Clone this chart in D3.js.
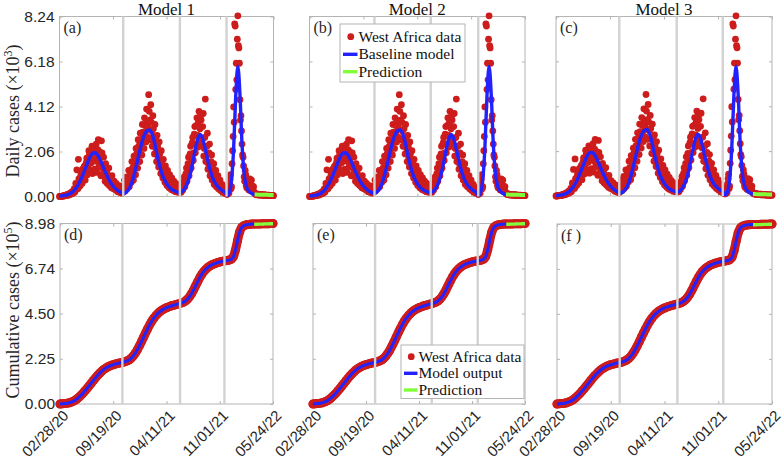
<!DOCTYPE html>
<html>
<head>
<meta charset="utf-8">
<script src="https://cdn.jsdelivr.net/npm/d3@7"></script>
<style>
  body { margin: 0; background: #fff; }
  svg { display: block; font-family: "Liberation Serif", "Times New Roman", serif; }
</style>
</head>
<body>
<div id="chart"></div>
<script>
// ---- data ----
const dateTickLabels = ["02/28/20", "09/19/20", "04/11/21", "11/01/21", "05/24/22"];
const dailyTicks = [0, 2.06, 4.12, 6.18, 8.24];   // x10^3
const cumTicks = [0, 2.25, 4.50, 6.74, 8.98];     // x10^5
const modelTitles = ["Model 1", "Model 2", "Model 3"];
const panelTags = ["(a)", "(b)", "(c)", "(d)", "(e)", "(f )"];

// West Africa daily cases (x10^3), one value every 4 days from 02/28/20 (day 0)
const dailyStep = 4;
const dailyData = [
  0.00,0.01,0.02,0.02,0.03,0.05,0.04,0.08,0.10,0.07,
  0.15,0.12,0.22,0.18,0.35,0.28,0.50,0.42,1.70,0.55,
  0.90,0.70,1.25,0.95,1.40,1.10,1.75,1.30,2.10,1.60,
  1.95,2.30,1.70,2.20,1.85,2.40,1.60,2.60,2.05,1.45,
  2.55,1.30,1.80,0.95,1.50,1.15,0.85,1.30,0.75,0.60,
  0.95,0.55,0.70,0.45,0.60,0.40,0.30,0.50,0.35,0.25,
  0.40,
  0.30,0.75,0.45,0.90,0.55,1.20,0.70,1.05,1.60,0.90,
  1.85,1.35,2.20,1.70,2.60,2.05,2.90,2.40,3.30,2.70,
  3.60,2.95,4.00,3.20,4.66,3.50,4.20,3.00,3.70,2.60,
  3.30,2.20,2.80,1.80,2.50,1.50,2.10,1.10,1.70,0.90,
  1.40,0.80,1.20,0.65,1.00,0.55,0.85,0.45,0.70,0.40,
  0.60,0.30,0.50,0.25,
  0.35,0.20,0.60,0.40,0.90,0.60,1.30,0.95,1.80,1.20,
  2.30,1.60,2.70,2.00,3.20,2.40,3.60,2.80,3.90,3.10,
  3.50,2.60,3.80,2.20,4.46,1.90,2.90,1.50,2.40,1.20,
  1.90,0.90,1.50,0.70,1.20,0.55,0.95,0.40,0.75,0.35,
  0.55,0.25,0.40,0.20,0.30,
  0.10,0.30,0.55,1.00,0.45,2.10,4.10,7.90,4.90,5.34,
  8.27,6.80,4.43,3.70,2.40,1.80,0.90,1.20,0.50,0.80,
  0.35,0.65,0.30,0.75,0.25,0.45,
  0.15,0.10,0.12,0.08,0.10,0.06,0.09,0.07,0.08,0.05,
  0.07,0.06,0.05,0.06,0.04,0.05,0.04,0.05,0.04
];
// the in-between days (day 2, 6, 10, ... 814)
const dailyDataOffset = 2;
const dailyDataB = [
  0.00,0.01,0.01,0.03,0.02,0.04,0.06,0.05,0.09,0.11,
  0.10,0.17,0.14,0.25,0.20,0.60,1.22,0.35,0.80,0.48,
  1.05,0.60,0.85,1.35,0.75,1.55,1.00,1.40,1.90,1.20,
  1.55,1.05,1.80,1.25,1.95,1.10,2.15,1.35,1.75,0.95,
  2.00,1.05,1.40,0.70,1.20,0.60,0.95,0.50,0.80,0.40,
  0.65,0.35,0.55,0.30,0.45,0.22,0.38,0.18,0.28,0.15,
  0.20,0.50,0.25,0.65,0.35,0.85,0.45,1.10,0.65,1.30,
  0.75,1.55,1.00,1.95,1.30,2.30,1.60,2.60,1.90,2.95,
  2.20,3.25,2.50,3.45,2.70,3.90,2.60,3.40,2.30,3.10,
  1.95,2.65,1.60,2.30,1.35,1.95,1.05,1.60,0.85,1.30,
  0.65,1.05,0.50,0.85,0.40,0.70,0.32,0.60,0.28,0.50,
  0.22,0.42,0.20,0.35,0.18,
  0.25,0.45,0.30,0.70,0.45,1.05,0.70,1.50,0.95,1.95,
  1.30,2.45,1.65,2.85,2.00,3.25,2.25,3.40,2.50,3.70,
  2.30,3.20,1.85,2.70,1.60,2.30,1.25,2.00,0.95,1.60,
  0.75,1.25,0.55,1.00,0.45,0.80,0.35,0.60,0.28,0.45,
  0.20,0.35,0.15,0.25,0.10,
  0.20,0.15,0.80,0.35,1.50,2.75,3.40,7.80,6.10,7.20,
  6.90,6.10,3.50,3.00,1.90,1.40,0.70,1.00,0.40,0.60,
  0.30,0.80,0.25,0.50,0.30,0.20,
  0.12,0.09,0.11,0.07,0.09,0.08,0.06,0.08,0.05,0.07,
  0.06,0.05,0.04,0.06,0.05,0.04,0.05,0.04
];

// baseline model daily cases (x10^3), every 8 days up to day 744
const modelStep = 8;
const dailyModel = [
  0.02,0.03,0.04,0.06,0.09,0.13,0.19,0.28,0.40,0.55,0.74,0.96,1.20,1.45,1.69,1.88,
  1.99,2.00,1.92,1.76,1.55,1.32,1.09,0.88,0.70,0.55,0.43,0.33,0.26,0.20,0.16,
  0.15,0.22,0.34,0.52,0.80,1.15,1.55,1.98,2.38,2.70,2.92,3.03,3.05,2.90,2.60,2.15,
  1.70,1.32,1.00,0.78,0.60,0.47,0.37,0.30,0.25,0.21,0.18,
  0.20,0.28,0.42,0.62,0.92,1.32,1.80,2.28,2.66,2.83,2.72,2.38,1.95,1.53,1.15,0.86,
  0.65,0.50,0.40,0.32,0.25,0.18,
  0.05,0.20,0.75,2.20,4.60,5.95,4.70,2.40,1.05,0.50,0.28,0.18,0.12,0.09
];

// prediction (x10^3), every 8 days from day 744 to 816
const predStart = 744;
const dailyPred = [0.09,0.09,0.08,0.08,0.08,0.08,0.08,0.07,0.07,0.07];

// cumulative cases (x10^5), every 8 days
const cumData = [
  0.00,0.01,0.02,0.03,0.05,0.08,0.12,0.17,0.24,0.33,
  0.43,0.54,0.66,0.78,0.91,1.04,1.17,1.30,1.42,1.53,
  1.63,1.72,1.79,1.85,1.90,1.94,1.97,2.00,2.03,2.05,
  2.07,2.10,2.14,2.19,2.27,2.38,2.52,2.69,2.89,3.10,
  3.32,3.54,3.75,3.95,4.13,4.28,4.41,4.52,4.61,4.68,
  4.74,4.79,4.83,4.87,4.90,4.93,4.96,4.99,5.02,5.06,
  5.12,5.21,5.33,5.49,5.68,5.89,6.10,6.30,6.47,6.61,
  6.72,6.81,6.88,6.94,6.98,7.02,7.05,7.08,7.10,7.12,
  7.14,7.16,7.20,7.32,7.65,8.12,8.55,8.78,8.87,8.91,
  8.93,8.94,8.95,8.95,8.96,8.96,8.96,8.97,8.97,8.97,
  8.97,8.98,8.98
];
const cumPred = [8.94,8.94,8.95,8.95,8.95,8.96,8.96,8.96,8.97,8.97];

// wave boundaries (days since 02/28/20), one row per panel a..f
const waveBreaks = [
  [243, 459, 637], [246, 459, 639], [239, 456, 630],
  [239, 460, 630], [239, 457, 634], [238, 457, 631]
];

// ---- layout ----
const W = 783, H = 461;
const boxes = [
  [59.5, 16.5, 273.5, 196.5], [309.5, 16.5, 525, 196.5], [556, 16.5, 772, 196],
  [60, 223.5, 273, 404], [313, 223.5, 525, 404], [557, 224, 772, 404]
];
const RED = "#cd1c1c", BLUE = "#2222ff", GREEN = "#80ff3a";
const AXIS = "#b4b4b4", BREAK = "#d2d2d2", TXT = "#262626";

const parse = d3.utcParse("%m/%d/%y");
const fmt = d3.utcFormat("%m/%d/%y");
const t0 = parse(dateTickLabels[0]);
const t1 = parse(dateTickLabels[dateTickLabels.length - 1]);
const dayDate = n => d3.utcDay.offset(t0, n);

const svg = d3.select("#chart").append("svg")
    .attr("width", W).attr("height", H)
    .attr("viewBox", `0 0 ${W} ${H}`);

function styleAxis(sel) {
    sel.select(".domain").remove();
    sel.selectAll(".tick line").attr("stroke", AXIS);
    sel.selectAll(".tick text").attr("fill", TXT).style("font-size", "15.5px");
}

function drawPanel(idx) {
    const [x0, y0, x1, y1] = boxes[idx];
    const daily = idx < 3;
    const x = d3.scaleUtc().domain([t0, t1]).range([x0, x1]);
    const y = d3.scaleLinear().domain([0, daily ? 8.24 : 8.98]).range([y1, y0]);
    const yTicks = daily ? dailyTicks : cumTicks;
    const xTicks = dateTickLabels.map(parse);
    const g = svg.append("g");

    g.append("rect")
        .attr("x", x0).attr("y", y0)
        .attr("width", x1 - x0).attr("height", y1 - y0)
        .attr("fill", "none").attr("stroke", AXIS);

    // ticks on all four sides, pointing inwards
    g.append("g").attr("transform", `translate(0,${y1})`)
        .call(d3.axisBottom(x).tickValues(xTicks).tickSize(-3)
            .tickFormat(daily ? () => "" : fmt))
        .call(styleAxis)
        .selectAll(".tick text")
        .attr("x", 0).attr("y", 0).attr("dy", 0)
        .attr("text-anchor", "end")
        .style("font-size", "15px")
        .attr("transform", "translate(9,12.5) rotate(-45)");
    g.append("g").attr("transform", `translate(0,${y0})`)
        .call(d3.axisTop(x).tickValues(xTicks).tickSize(-3).tickFormat(() => ""))
        .call(styleAxis);
    g.append("g").attr("transform", `translate(${x0},0)`)
        .call(d3.axisLeft(y).tickValues(yTicks).tickSize(-3).tickPadding(5)
            .tickFormat(idx % 3 === 0 ? d3.format(".2f") : () => ""))
        .call(styleAxis);
    g.append("g").attr("transform", `translate(${x1},0)`)
        .call(d3.axisRight(y).tickValues(yTicks).tickSize(-3).tickFormat(() => ""))
        .call(styleAxis);

    const line = d3.line().x(d => x(d[0])).y(d => y(d[1])).curve(d3.curveMonotoneX);

    if (daily) {
        const obs = dailyData.map((v, i) => [dayDate(i * dailyStep), v])
            .concat(dailyDataB.map((v, i) => [dayDate(dailyDataOffset + i * dailyStep), v]));
        g.append("g").selectAll("circle")
            .data(obs)
            .join("circle")
            .attr("cx", d => x(d[0])).attr("cy", d => y(d[1]))
            .attr("r", 3.4).attr("fill", RED);
        g.append("path")
            .datum(dailyModel.map((v, i) => [dayDate(i * modelStep), v]))
            .attr("d", line).attr("fill", "none")
            .attr("stroke", BLUE).attr("stroke-width", 3.4);
        g.append("path")
            .datum(dailyPred.map((v, i) => [dayDate(predStart + i * modelStep), v]))
            .attr("d", line).attr("fill", "none")
            .attr("stroke", GREEN).attr("stroke-width", 4);
    } else {
        const pts = cumData.map((v, i) => [dayDate(i * modelStep), v]);
        g.append("path").datum(pts).attr("d", line).attr("fill", "none")
            .attr("stroke", RED).attr("stroke-width", 9)
            .attr("stroke-linecap", "round").attr("stroke-linejoin", "round");
        g.append("g").selectAll("circle").data(pts).join("circle")
            .attr("cx", d => x(d[0])).attr("cy", d => y(d[1]))
            .attr("r", 4.5).attr("fill", RED);
        g.append("path")
            .datum(pts.filter((d, i) => i * modelStep <= predStart))
            .attr("d", line).attr("fill", "none")
            .attr("stroke", BLUE).attr("stroke-width", 3);
        g.append("path")
            .datum(cumPred.map((v, i) => [dayDate(predStart + i * modelStep), v]))
            .attr("d", line).attr("fill", "none")
            .attr("stroke", GREEN).attr("stroke-width", 3.4);
    }

    // wave boundaries drawn over the data
    g.append("g").selectAll("line").data(waveBreaks[idx]).join("line")
        .attr("x1", d => x(dayDate(d))).attr("x2", d => x(dayDate(d)))
        .attr("y1", y0).attr("y2", y1)
        .attr("stroke", BREAK).attr("stroke-width", 2.4);

    g.append("text")
        .attr("x", x0 + 4).attr("y", y0 + 16.5)
        .style("font-size", "16px").attr("fill", TXT)
        .text(panelTags[idx]);

    if (daily) {
        g.append("text")
            .attr("x", (x0 + x1) / 2).attr("y", 15)
            .attr("text-anchor", "middle")
            .style("font-size", "17px").attr("fill", "#111")
            .text(modelTitles[idx]);
    }
}

d3.range(6).forEach(drawPanel);

// legends
function legend(box, labels, baselines, spacingX) {
    const [lx0, ly0, lx1, ly1] = box;
    const g = svg.append("g");
    g.append("rect")
        .attr("x", lx0).attr("y", ly0)
        .attr("width", lx1 - lx0).attr("height", ly1 - ly0)
        .attr("fill", "#fff").attr("stroke", AXIS);
    const colors = [RED, BLUE, GREEN];
    labels.forEach((lab, i) => {
        const cy = baselines[i] - 5;
        if (i === 0) {
            g.append("circle").attr("cx", lx0 + spacingX / 2 + 2).attr("cy", cy)
                .attr("r", 3.4).attr("fill", RED);
        } else {
            g.append("line")
                .attr("x1", lx0 + 3).attr("x2", lx0 + spacingX)
                .attr("y1", cy).attr("y2", cy)
                .attr("stroke", colors[i]).attr("stroke-width", 3.4);
        }
        g.append("text")
            .attr("x", lx0 + spacingX + 1).attr("y", baselines[i])
            .style("font-size", "15.5px").attr("fill", "#111")
            .text(lab);
    });
}

legend([340, 24, 465, 82], ["West Africa data", "Baseline model", "Prediction"], [41.7, 59.3, 76.7], 17.5);
legend([401, 345, 524, 398.5], ["West Africa data", "Model output", "Prediction"], [361.7, 378.3, 395], 16.5);

// y-axis titles
function yTitle(cx, cy, main, exp) {
    const t = svg.append("text")
        .attr("transform", `translate(${cx},${cy}) rotate(-90)`)
        .attr("text-anchor", "middle")
        .style("font-size", "18px").attr("fill", TXT);
    t.append("tspan").text(main + " (×10");
    t.append("tspan").attr("dy", -7).style("font-size", "12px").text(exp);
    t.append("tspan").attr("dy", 7).text(")");
}
yTitle(19, 111, "Daily cases", "3");
yTitle(19, 310, "Cumulative cases", "5");
</script>
</body>
</html>
